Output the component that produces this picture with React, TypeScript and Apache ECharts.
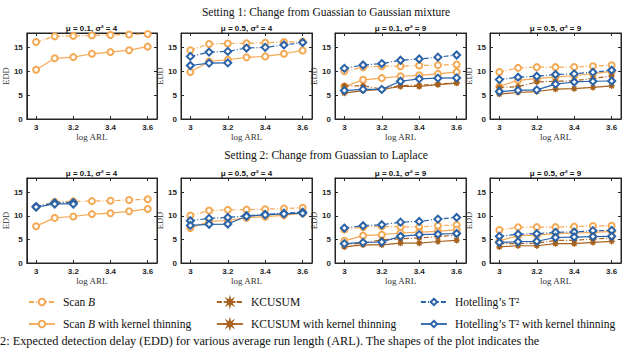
import React, { useEffect, useRef } from "react";
import * as echarts from "echarts";

const xValues = [3, 3.1, 3.2, 3.3, 3.4, 3.5, 3.6];
const xTicks = [3, 3.2, 3.4, 3.6];
const yTicks = [0, 5, 10, 15];

const settingTitles = [
  "Setting 1: Change from Guassian to Gaussian mixture",
  "Setting 2: Change from Guassian to Laplace",
];
const panelTitles = [
  "μ = 0.1, σ² = 4",
  "μ = 0.5, σ² = 4",
  "μ = 0.1, σ² = 9",
  "μ = 0.5, σ² = 9",
  "μ = 0.1, σ² = 4",
  "μ = 0.5, σ² = 4",
  "μ = 0.1, σ² = 9",
  "μ = 0.5, σ² = 9",
];
const captionText =
  "2: Expected detection delay (EDD) for various average run length (ARL). The shapes of the plot indicates the";

// per panel (top row 1-4, bottom row 5-8); null = not drawn
const scanB: (number[] | null)[] = [
  [16.1, 17.3, 17.4, 17.5, 17.6, 17.7, 17.8],
  [14.4, 15.7, 15.8, 15.85, 15.95, 16.1, 16.2],
  [10.0, 10.85, 11.05, 11.05, 11.2, 11.27, 11.4],
  [9.85, 10.7, 10.85, 10.85, 10.9, 11.05, 11.25],
  [11.9, 12.95, 13.05, 13.1, 13.2, 13.35, 13.5],
  [10.05, 11.1, 11.25, 11.3, 11.4, 11.55, 11.7],
  [7.1, 7.6, 7.75, 7.65, 7.65, 7.9, 8.05],
  [7.0, 7.55, 7.6, 7.6, 7.7, 7.85, 7.9],
];
const scanBKT: (number[] | null)[] = [
  [10.3, 12.7, 12.95, 13.65, 14.0, 14.4, 15.15],
  [9.85, 12.05, 12.4, 12.9, 13.1, 13.65, 14.35],
  [6.8, 8.2, 8.55, 8.95, 9.15, 9.45, 9.85],
  [6.8, 8.1, 8.45, 8.8, 9.05, 9.5, 9.95],
  [7.8, 9.55, 9.85, 10.35, 10.55, 10.95, 11.45],
  [7.4, 8.8, 9.0, 9.6, 9.8, 10.1, 10.55],
  [4.7, 5.8, 6.0, 6.35, 6.55, 6.7, 7.05],
  [4.7, 5.8, 5.9, 6.2, 6.35, 6.5, 6.7],
];
const kcusum: (number[] | null)[] = [
  null,
  null,
  [6.95, 6.95, 6.25, 7.0, 7.05, 7.3, 7.6],
  [6.6, 6.75, 7.75, 7.9, 8.0, 8.5, 9.0],
  null,
  null,
  [3.9, 4.2, 4.9, 5.15, 5.3, 5.6, 5.9],
  [4.1, 4.1, 4.2, 4.8, 4.8, 5.05, 5.3],
];
const kcusumKT: (number[] | null)[] = [
  null,
  null,
  [5.4, 5.95, 6.2, 6.8, 6.8, 7.2, 7.5],
  [5.2, 5.55, 5.75, 6.25, 6.35, 6.6, 6.95],
  null,
  null,
  [3.4, 3.85, 3.85, 4.2, 4.2, 4.55, 4.8],
  [3.4, 3.65, 3.65, 4.1, 4.1, 4.35, 4.6],
];
const hotelling: (number[] | null)[] = [
  null,
  [13.1, 14.0, 14.15, 14.85, 15.0, 15.5, 16.0],
  [10.6, 11.3, 11.6, 12.3, 12.55, 12.95, 13.4],
  [8.25, 8.75, 8.95, 9.3, 9.45, 9.8, 10.2],
  [11.95, 12.75, 12.8],
  [8.95, 9.45, 9.65, 10.0, 10.3, 10.55, 10.75],
  [7.4, 7.9, 8.1, 8.65, 8.8, 9.3, 9.65],
  [5.65, 6.1, 6.2, 6.5, 6.55, 6.85, 6.9],
];
const hotellingKT: (number[] | null)[] = [
  null,
  [11.2, 11.7, 11.75],
  [5.95, 6.2, 6.2, 7.9, 8.4, 8.55, 8.6],
  [5.75, 6.0, 6.1, 7.3, 7.75, 7.9, 7.95],
  [11.85, 12.5, 12.5],
  [7.95, 8.2, 8.25, 9.9, 10.2, 10.4, 10.55],
  [4.1, 4.35, 4.45, 5.65, 6.0, 6.1, 6.25],
  [4.35, 4.5, 4.6, 5.4, 5.5, 5.6, 5.65],
];

const ORANGE = "#F4A954";
const BROWN = "#A8611E";
const BLUE = "#2A62A8";
const AXIS = "#262626";
const STAR =
  "path://M20 10 L13.7 11.53 L17.07 17.07 L11.53 13.7 L10 20 L8.47 13.7 L2.93 17.07 L6.3 11.53 L0 10 L6.3 8.47 L2.93 2.93 L8.47 6.3 L10 0 L11.53 6.3 L17.07 2.93 L13.7 8.47 Z";

const methods = [
  { name: "Scan B", data: scanB, color: ORANGE, symbol: "emptyCircle", size: 6, dash: true },
  { name: "Scan B with kernel thinning", data: scanBKT, color: ORANGE, symbol: "emptyCircle", size: 6, dash: false },
  { name: "KCUSUM", data: kcusum, color: BROWN, symbol: STAR, size: 6, dash: true },
  { name: "KCUSUM with kernel thinning", data: kcusumKT, color: BROWN, symbol: STAR, size: 6, dash: false },
  { name: "Hotelling’s T²", data: hotelling, color: BLUE, symbol: "emptyDiamond", size: 7, dash: true },
  { name: "Hotelling’s T² with kernel thinning", data: hotellingKT, color: BLUE, symbol: "emptyDiamond", size: 7, dash: false },
];

const gridLefts = [26, 181, 335, 490];
const gridTops = [33, 178];
const gridHeights = [86, 85];
const gridW = 131;

export default function App() {
  const ref = useRef<HTMLDivElement>(null);
  useEffect(() => {
    if (!ref.current) return;
    const chart = echarts.init(ref.current, undefined, { renderer: "svg" });
    const grids: any[] = [];
    const xAxes: any[] = [];
    const yAxes: any[] = [];
    const series: any[] = [];
    const graphics: any[] = [];
    const lineStyle = { color: AXIS, width: 1 };
    const labelStyle = {
      fontFamily: "Liberation Sans",
      fontSize: 8,
      fontWeight: "bold",
      color: AXIS,
    };
    for (let i = 0; i < 8; i++) {
      const row = i >> 2;
      const col = i & 3;
      const left = gridLefts[col];
      const top = gridTops[row];
      const h = gridHeights[row];
      grids.push({
        left,
        top,
        width: gridW,
        height: h,
        show: true,
        borderColor: AXIS,
        borderWidth: 1,
        backgroundColor: "transparent",
      });
      xAxes.push({
        type: "value",
        gridIndex: i,
        min: 2.95,
        max: 3.65,
        position: "bottom",
        axisLine: { show: true, onZero: false, lineStyle },
        axisTick: { show: true, inside: true, length: 3, customValues: xTicks, lineStyle },
        axisLabel: { customValues: xTicks, margin: 4, ...labelStyle },
        splitLine: { show: false },
        name: "log ARL",
        nameLocation: "middle",
        nameGap: 13,
        nameTextStyle: { fontFamily: "Liberation Serif", fontSize: 9, color: "#333" },
      });
      xAxes.push({
        type: "value",
        gridIndex: i,
        min: 2.95,
        max: 3.65,
        position: "top",
        axisLine: { show: true, onZero: false, lineStyle },
        axisTick: { show: true, inside: true, length: 3, customValues: xTicks, lineStyle },
        axisLabel: { show: false },
        splitLine: { show: false },
      });
      yAxes.push({
        type: "value",
        gridIndex: i,
        min: 0,
        max: 18,
        position: "left",
        axisLine: { show: true, onZero: false, lineStyle },
        axisTick: { show: true, inside: true, length: 3, customValues: yTicks, lineStyle },
        axisLabel: { customValues: yTicks, margin: 4, ...labelStyle },
        splitLine: { show: false },
        name: "EDD",
        nameLocation: "middle",
        nameGap: 12,
        nameRotate: 90,
        nameTextStyle: { fontFamily: "Liberation Serif", fontSize: 8.5, color: "#333" },
      });
      yAxes.push({
        type: "value",
        gridIndex: i,
        min: 0,
        max: 18,
        position: "right",
        axisLine: { show: true, onZero: false, lineStyle },
        axisTick: { show: true, inside: true, length: 3, customValues: yTicks, lineStyle },
        axisLabel: { show: false },
        splitLine: { show: false },
      });
      graphics.push({
        type: "text",
        x: left + gridW / 2,
        y: top - 1,
        style: {
          text: panelTitles[i],
          fill: "#111",
          font: "bold 8px 'Liberation Sans'",
          align: "center",
          verticalAlign: "bottom",
        },
      });
      methods.forEach((m, mi) => {
        const arr = m.data[i];
        if (!arr) return;
        series.push({
          type: "line",
          name: m.name,
          xAxisIndex: 2 * i,
          yAxisIndex: 2 * i,
          data: arr.map((v, k) => [xValues[k], v]),
          symbol: m.symbol,
          symbolSize: m.size,
          showSymbol: true,
          lineStyle: { color: m.color, width: 1.2, type: m.dash ? [5, 2, 1, 2] : "solid" },
          itemStyle: { color: m.color, borderColor: m.color, borderWidth: 1.1 },
          emphasis: { disabled: true },
          z: 2 + mi,
        });
      });
    }
    settingTitles.forEach((t, r) => {
      graphics.push({
        type: "text",
        x: 326,
        y: r === 0 ? 12 : 155,
        style: {
          text: t,
          fill: "#111",
          font: "11.5px 'Liberation Serif'",
          align: "center",
          verticalAlign: "middle",
        },
      });
    });
    graphics.push({
      type: "text",
      x: 0,
      y: 335,
      style: {
        text: captionText,
        fill: "#111",
        font: "12.3px 'Liberation Serif'",
        align: "left",
        verticalAlign: "top",
      },
    });

    const legendCommon = {
      orient: "vertical",
      itemWidth: 26,
      itemHeight: 8,
      itemGap: 10,
      top: 296,
      padding: 0,
      selectedMode: false,
      lineStyle: { width: 1.8 },
      formatter: (name: string) => name.replace("Scan B", "Scan {i|B}"),
      textStyle: {
        fontFamily: "Liberation Serif",
        fontSize: 11.5,
        lineHeight: 12,
        padding: [0, 0, 0, 3],
        color: "#111",
        rich: {
          i: { fontFamily: "Liberation Serif", fontSize: 11.5, fontStyle: "italic", color: "#111" },
        },
      },
    };
    const legends = [
      { ...legendCommon, left: 28, data: [methods[0].name, methods[1].name] },
      { ...legendCommon, left: 216, data: [methods[2].name, methods[3].name] },
      { ...legendCommon, left: 420, data: [methods[4].name, methods[5].name] },
    ];

    chart.setOption({
      animation: false,
      backgroundColor: "#fff",
      grid: grids,
      xAxis: xAxes,
      yAxis: yAxes,
      series,
      legend: legends,
      graphic: graphics,
    });
    return () => chart.dispose();
  }, []);
  return (
    <div
      ref={ref}
      style={{ position: "absolute", left: 0, top: 0, width: 640, height: 350 }}
    />
  );
}
